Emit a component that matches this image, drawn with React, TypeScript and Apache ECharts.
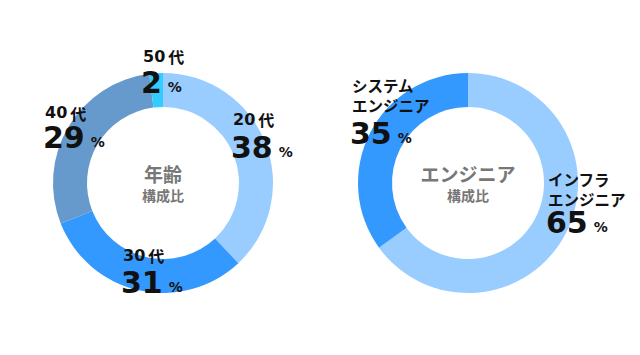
import React, { useEffect, useRef } from 'react';
import * as echarts from 'echarts';

const ageCategories = ['20代', '30代', '40代', '50代'];
const ageValues = [38, 31, 29, 2];
const ageColors = ['#99CCFF', '#3399FF', '#6699CC', '#33CCFF'];

const engCategories = ['インフラ\nエンジニア', 'システム\nエンジニア'];
const engValues = [65, 35];
const engColors = ['#99CCFF', '#3399FF'];

const ageTitle = '年齢';
const engTitle = 'エンジニア';
const subTitle = '構成比';
const pctSign = '%';

// label layout: [left x, first name line centre y, number centre y]
const ageLabelPos = [
  [231, 119, 147],
  [121, 255, 282.5],
  [43, 112.5, 137.5],
  [141, 56, 82.5],
];
const engLabelPos = [
  [546, 178.7, 222.5],
  [350, 85.3, 134],
];

const FONT = '"DejaVu Sans", "Noto Sans CJK JP", sans-serif';
const CJK = '"Noto Sans CJK JP", sans-serif';
const NAME_LH = 20;

function labelElement(c: string, v: number, pos: number[], nameSize: number) {
  const [x, ny, vy] = pos;
  const lines = c.split('\n');
  const nameLines = lines.map((ln) => {
    const m = ln.match(/^(\d+)(.*)$/);
    if (m) return `{d|${m[1]}}{k|${m[2]}}`;
    return `{k0|${ln}}`;
  });
  const lastNameCenter = ny + (lines.length - 1) * NAME_LH;
  const numLH = 2 * (vy - lastNameCenter) - NAME_LH;
  const text = [...nameLines, `{n|${v}}{p|${pctSign}}`].join('\n');
  const base = { fontWeight: 'bold', fill: '#111', verticalAlign: 'middle' };
  return {
    type: 'text',
    x,
    y: ny - NAME_LH / 2,
    z: 10,
    style: {
      text,
      align: 'left',
      verticalAlign: 'top',
      rich: {
        d: { ...base, fontSize: 16, fontFamily: FONT, lineHeight: NAME_LH, padding: [0, 0, 0, 2] },
        k: { ...base, fontSize: nameSize, fontFamily: CJK, lineHeight: NAME_LH, padding: [0, 0, 0, 3] },
        k0: { ...base, fontSize: nameSize, fontFamily: CJK, lineHeight: NAME_LH, padding: [0, 0, 0, 2] },
        n: { ...base, fontSize: 30, fontFamily: FONT, lineHeight: numLH },
        p: { ...base, fontSize: 14, fontFamily: FONT, lineHeight: 17, padding: [9, 0, 0, 6] },
      },
    },
  };
}

function centerTitle(x: number, title: string) {
  const base = { fontWeight: 'bold', fill: '#777777', fontFamily: CJK, verticalAlign: 'middle', align: 'center' };
  return {
    type: 'text',
    x,
    y: 163,
    z: 10,
    style: {
      text: `{t|${title}}\n{s|${subTitle}}`,
      align: 'center',
      verticalAlign: 'top',
      rich: {
        t: { ...base, fontSize: 19, lineHeight: 21 },
        s: { ...base, fontSize: 14, lineHeight: 21 },
      },
    },
  };
}

function pieSeries(cats: string[], vals: number[], colors: string[], cx: number) {
  return {
    type: 'pie',
    radius: [76, 110],
    center: [cx, 183],
    startAngle: 90,
    clockwise: true,
    silent: true,
    label: { show: false },
    labelLine: { show: false },
    emphasis: { disabled: true },
    itemStyle: { borderWidth: 0 },
    data: cats.map((c, i) => ({ name: c, value: vals[i], itemStyle: { color: colors[i] } })),
  };
}

export default function App() {
  const ref = useRef<HTMLDivElement>(null);
  useEffect(() => {
    if (!ref.current) return;
    const chart = echarts.init(ref.current, undefined, { renderer: 'svg' });
    chart.setOption({
      animation: false,
      backgroundColor: '#ffffff',
      series: [
        pieSeries(ageCategories, ageValues, ageColors, 163),
        pieSeries(engCategories, engValues, engColors, 468),
      ],
      graphic: [
        centerTitle(163, ageTitle),
        centerTitle(468, engTitle),
        ...ageCategories.map((c, i) => labelElement(c, ageValues[i], ageLabelPos[i], 16)),
        ...engCategories.map((c, i) => labelElement(c, engValues[i], engLabelPos[i], 15.5)),
      ],
    });
    return () => chart.dispose();
  }, []);
  return (
    <div
      ref={ref}
      style={{ position: 'absolute', left: 0, top: 0, width: 640, height: 355 }}
    />
  );
}
